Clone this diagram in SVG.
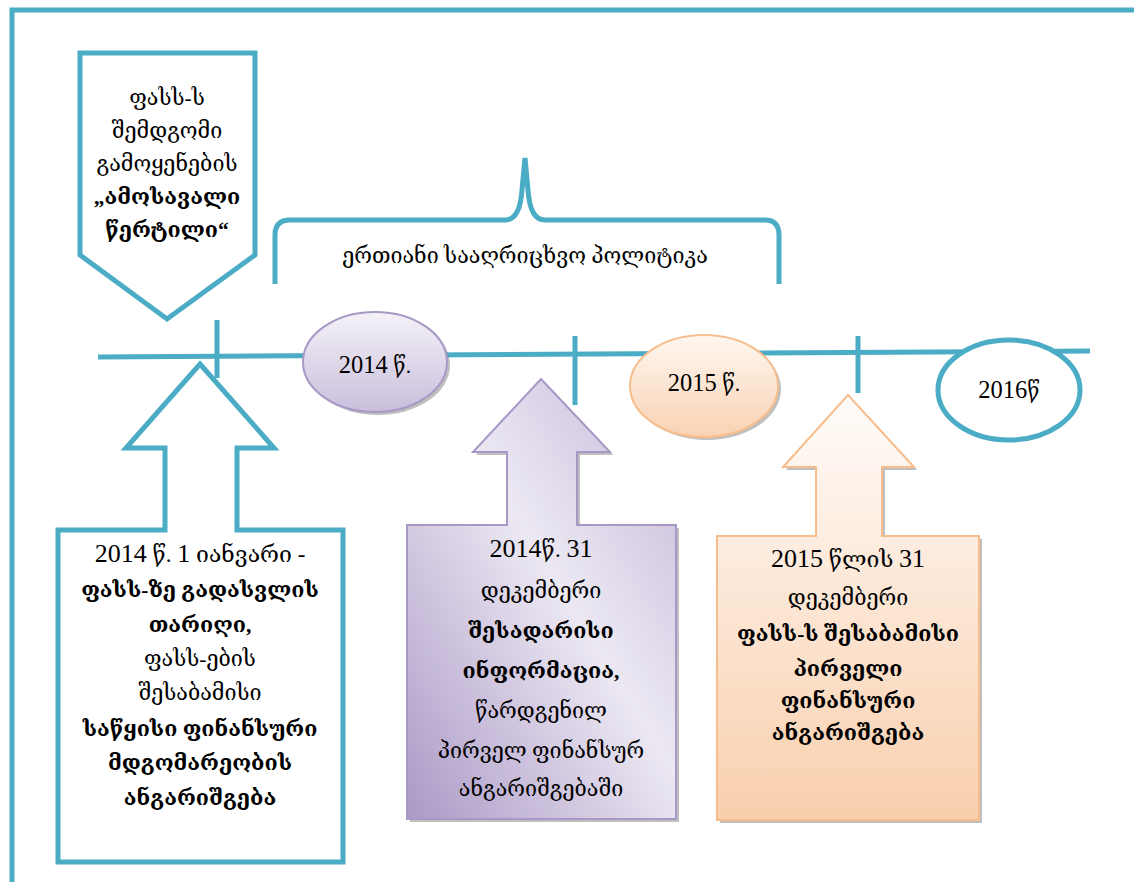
<svg xmlns="http://www.w3.org/2000/svg" width="1134" height="882" viewBox="0 0 1134 882">
<style>
.teal{fill:none;stroke:#4bacc6;stroke-width:5}
.t{font-family:"Liberation Serif","DejaVu Serif",serif;font-size:21.5px;fill:#000;text-anchor:middle}
.b{font-weight:bold}
.d{font-size:24.5px}
.h{font-size:23px}
.h .d{font-size:26px}
.shadow{fill:#8a8a8a;opacity:0.55}
</style>
<defs>
<linearGradient id="purpEll" x1="0" y1="0" x2="0" y2="1">
<stop offset="0" stop-color="#f4f2f8"/><stop offset="1" stop-color="#c9bedc"/>
</linearGradient>
<linearGradient id="peachEll" x1="0" y1="0" x2="0" y2="1">
<stop offset="0" stop-color="#fff7f1"/><stop offset="1" stop-color="#f9d2b2"/>
</linearGradient>
<linearGradient id="purpArr" x1="0" y1="1" x2="1" y2="0">
<stop offset="0" stop-color="#ab99c6"/><stop offset="0.55" stop-color="#ece8f3"/><stop offset="1" stop-color="#c3b7d8"/>
</linearGradient>
<linearGradient id="peachArr" x1="0" y1="0" x2="0" y2="1">
<stop offset="0" stop-color="#fffcfa"/><stop offset="1" stop-color="#f9cfad"/>
</linearGradient>
</defs>

<g id="frame">
<path class="teal" d="M12,882 V10 H1134"/>
</g>

<g id="connectors">
<path class="teal" d="M98,357 L1090,351"/>
<path class="teal" d="M217,320 V378"/>
<path class="teal" d="M575,336 V405"/>
<path class="teal" d="M858,336 V393"/>
</g>

<g id="starting-point">
<path class="teal" d="M80,53 H255 V255 L167,319 L80,255 Z" fill="#fff"/>
<text class="t" x="167" y="105">ფასს-ს</text>
<text class="t" x="167" y="138">შემდგომი</text>
<text class="t" x="167" y="171">გამოყენების</text>
<text class="t b" x="167" y="204">„ამოსავალი</text>
<text class="t b" x="167" y="237">წერტილი“</text>
</g>

<g id="policy-brace">
<path class="teal" d="M275,284 V235 Q275,220 290,220 H505 Q520,220 522,190 Q524,168 525,158 Q526,168 528,190 Q530,220 545,220 H765 Q779,220 779,235 V284"/>
<text class="t" x="525" y="263">ერთიანი სააღრიცხვო პოლიტიკა</text>
</g>

<g id="year-2014">
<ellipse class="shadow" cx="378" cy="365" rx="72" ry="50"/>
<ellipse cx="375" cy="362" rx="72" ry="50" fill="url(#purpEll)" stroke="#a898c6" stroke-width="2"/>
<text class="t" x="375" y="373"><tspan class="d">2014</tspan> წ.</text>
</g>

<g id="year-2015">
<ellipse class="shadow" cx="707" cy="389" rx="74" ry="51"/>
<ellipse cx="704" cy="386" rx="74" ry="51" fill="url(#peachEll)" stroke="#f7bd8c" stroke-width="2"/>
<text class="t" x="704" y="391"><tspan class="d">2015</tspan> წ.</text>
</g>

<g id="year-2016">
<ellipse cx="1009" cy="390" rx="71" ry="50" fill="#fff" stroke="#4bacc6" stroke-width="5"/>
<text class="t" x="1009" y="398"><tspan class="d">2016</tspan>წ</text>
</g>

<g id="transition-date">
<path class="teal" d="M200,364 L274,448 H237 V530 H343 V862 H58 V530 H165 V448 H126 Z" fill="#fff"/>
<text class="t h" x="200" y="562"><tspan class="d">2014</tspan> წ. <tspan class="d">1</tspan> იანვარი -</text>
<text class="t b" x="200" y="597">ფასს-ზე გადასვლის</text>
<text class="t b" x="200" y="632">თარიღი,</text>
<text class="t" x="200" y="666">ფასს-ების</text>
<text class="t" x="200" y="700">შესაბამისი</text>
<text class="t b" x="200" y="736">საწყისი ფინანსური</text>
<text class="t b" x="200" y="770">მდგომარეობის</text>
<text class="t b" x="200" y="805">ანგარიშგება</text>
</g>

<g id="comparative-info">
<path class="shadow" d="M544,382 L613,455 H580 V528 H679 V822 H410 V528 H510 V455 H476 Z"/>
<path d="M541,379 L610,452 H577 V525 H676 V819 H407 V525 H507 V452 H473 Z" fill="url(#purpArr)" stroke="#a898c6" stroke-width="2"/>
<text class="t h" x="541" y="557"><tspan class="d">2014</tspan>წ. <tspan class="d">31</tspan></text>
<text class="t" x="541" y="598">დეკემბერი</text>
<text class="t b" x="541" y="638">შესადარისი</text>
<text class="t b" x="541" y="678">ინფორმაცია,</text>
<text class="t" x="541" y="718">წარდგენილ</text>
<text class="t" x="541" y="758">პირველ ფინანსურ</text>
<text class="t" x="541" y="796">ანგარიშგებაში</text>
</g>

<g id="first-ifrs-statements">
<path class="shadow" d="M851,398 L917,470 H885 V539 H982 V823 H720 V539 H819 V470 H786 Z"/>
<path d="M848,395 L914,467 H882 V536 H979 V820 H717 V536 H816 V467 H783 Z" fill="url(#peachArr)" stroke="#f7bd8c" stroke-width="2"/>
<text class="t h" x="848" y="567"><tspan class="d">2015</tspan> წლის <tspan class="d">31</tspan></text>
<text class="t" x="848" y="605">დეკემბერი</text>
<text class="t b" x="848" y="641">ფასს-ს შესაბამისი</text>
<text class="t b" x="848" y="676">პირველი</text>
<text class="t b" x="848" y="708">ფინანსური</text>
<text class="t b" x="848" y="740">ანგარიშგება</text>
</g>
</svg>
